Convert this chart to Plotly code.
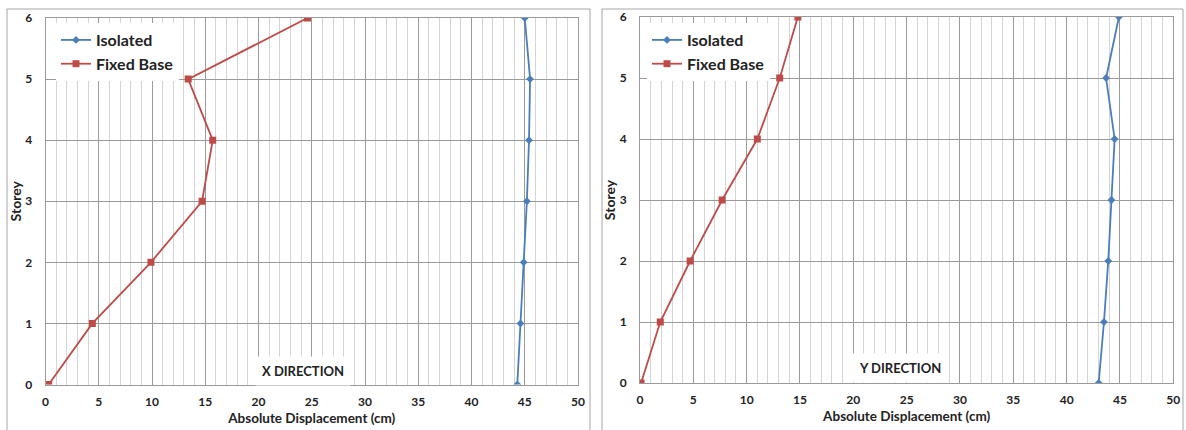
import plotly.graph_objects as go

storeys = [0, 1, 2, 3, 4, 5, 6]
x_isolated = [44.3, 44.6, 44.9, 45.2, 45.4, 45.5, 45.0]
x_fixed = [0.3, 4.4, 9.9, 14.7, 15.7, 13.4, 24.6]
y_isolated = [43.0, 43.5, 43.9, 44.2, 44.5, 43.7, 44.9]
y_fixed = [0.1, 1.9, 4.7, 7.7, 11.0, 13.1, 14.8]

BLUE = "#4A7EBB"
RED = "#BE4B48"
FONT = "Lato"
W, H = 1186, 430

fig = go.Figure()

def add_series(xs, ys, name, color, symbol, size, xa, ya, legend, lw):
    fig.add_trace(go.Scatter(
        x=xs, y=ys, name="<b>" + name + "</b>", mode="lines+markers",
        line=dict(color=color, width=lw),
        marker=dict(color=color, symbol=symbol, size=size),
        xaxis=xa, yaxis=ya, legend=legend))

add_series(x_isolated, storeys, "Isolated", BLUE, "diamond", 6, "x", "y", "legend", 1.8)
add_series(x_fixed, storeys, "Fixed Base", RED, "square", 7, "x", "y", "legend", 1.8)
add_series(y_isolated, storeys, "Isolated", BLUE, "diamond", 6, "x2", "y2", "legend2", 1.8)
add_series(y_fixed, storeys, "Fixed Base", RED, "square", 7, "x2", "y2", "legend2", 1.8)

tickfont = dict(family=FONT, size=12, color="#222222")
xtitlefont = dict(family=FONT, size=13.5, color="#222222")
ytitlefont = dict(family=FONT, size=14, color="#222222")

def xaxis_cfg(domain, anchor):
    return dict(
        domain=domain, anchor=anchor, range=[0, 50], dtick=5, tick0=0,
        showgrid=True, gridcolor="#9a9a9a", gridwidth=1,
        minor=dict(dtick=1, showgrid=True, gridcolor="#d4d4d4", gridwidth=1),
        showline=True, linecolor="#9a9a9a", linewidth=1, mirror=True,
        zeroline=False, ticks="", tickfont=tickfont, automargin=False,
        ticklabelstandoff=6,
        title=dict(text="<b>Absolute Displacement (cm)</b>", font=xtitlefont, standoff=5),
        tickprefix="<b>", ticksuffix="</b>", fixedrange=True)

def yaxis_cfg(domain, anchor):
    return dict(
        domain=domain, anchor=anchor, range=[0, 6], dtick=1,
        showgrid=True, gridcolor="#9a9a9a", gridwidth=1,
        showline=True, linecolor="#9a9a9a", linewidth=1, mirror=True,
        zeroline=False, ticks="", tickfont=tickfont, automargin=False,
        ticklabelstandoff=10,
        title=dict(text="<b>Storey</b>", font=ytitlefont, standoff=0),
        tickprefix="<b>", ticksuffix="</b>", fixedrange=True)

fig.update_layout(
    width=W, height=H,
    margin=dict(l=0, r=0, t=0, b=0, autoexpand=False),
    paper_bgcolor="white", plot_bgcolor="white",
    showlegend=True,
    xaxis=xaxis_cfg([45.5 / W, 578 / W], "y"),
    yaxis=yaxis_cfg([1 - 384.5 / H, 1 - 18 / H], "x"),
    xaxis2=xaxis_cfg([640 / W, 1173.3 / W], "y2"),
    yaxis2=yaxis_cfg([1 - 383 / H, 1 - 17 / H], "x2"),
    legend=dict(x=56 / W, y=1 - 23 / H, xanchor="left", yanchor="top",
                bgcolor="white", font=dict(family=FONT, size=16, color="#222222"),
                itemwidth=30, tracegroupgap=0),
    legend2=dict(x=647 / W, y=1 - 23 / H, xanchor="left", yanchor="top",
                 bgcolor="white", font=dict(family=FONT, size=16, color="#222222"),
                 itemwidth=30, tracegroupgap=0),
)

# panel borders
fig.add_shape(type="rect", xref="paper", yref="paper",
              x0=7 / W, x1=590 / W, y0=-0.05, y1=1 - 9 / H,
              line=dict(color="#a6a6a6", width=1), layer="below")
fig.add_shape(type="rect", xref="paper", yref="paper",
              x0=602 / W, x1=1183 / W, y0=-0.05, y1=1 - 9 / H,
              line=dict(color="#a6a6a6", width=1), layer="below")

# direction labels
fig.add_annotation(x=24.2, y=0.22, xref="x", yref="y", text="<b>X DIRECTION</b>",
                   showarrow=False, bgcolor="white", borderpad=6,
                   font=dict(family=FONT, size=13, color="#222222"))
fig.add_annotation(x=24.4, y=0.24, xref="x2", yref="y2", text="<b>Y DIRECTION</b>",
                   showarrow=False, bgcolor="white", borderpad=6,
                   font=dict(family=FONT, size=13, color="#222222"))

fig.write_html("out.html")
